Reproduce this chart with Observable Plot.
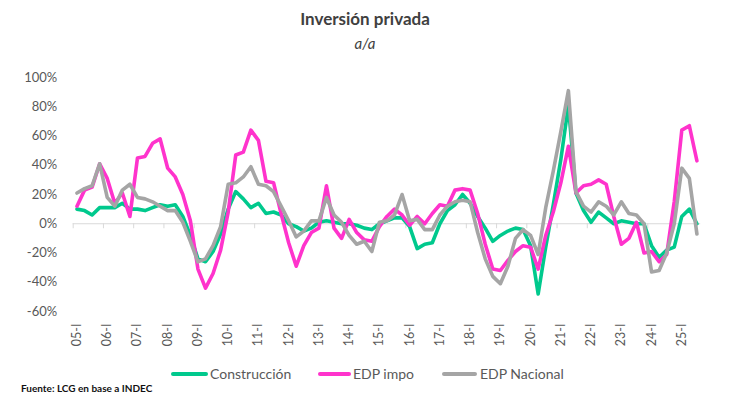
<!DOCTYPE html>
<html><head><meta charset="utf-8">
<script src="https://cdn.jsdelivr.net/npm/d3@7"></script>
<script src="https://cdn.jsdelivr.net/npm/@observablehq/plot@0.6"></script>
<style>
body{margin:0;background:#fff;font-family:Lato,"Open Sans",sans-serif;}
#wrap{position:relative;width:730px;height:399px;overflow:hidden;background:#fff;}
#title{position:absolute;top:8px;left:0;width:730px;text-align:center;font-weight:bold;font-size:17px;color:#404040;line-height:22px;}
#sub{position:absolute;top:33px;left:0;width:730px;text-align:center;font-style:italic;font-size:15px;color:#404040;line-height:20px;}
#chart{position:absolute;top:60px;left:0;}
.lg{position:absolute;top:365px;height:18px;line-height:18px;font-size:14px;color:#595959;white-space:nowrap;}
.sw{position:absolute;top:372px;height:4px;border-radius:2px;}
#source{position:absolute;top:381px;left:21px;font-size:10px;font-weight:bold;color:#111;line-height:14px;}
</style></head>
<body><div id="wrap">
<div id="title">Inversión privada</div>
<div id="sub">a/a</div>
<div id="chart"></div>
<div id="source">Fuente: LCG en base a INDEC</div>
</div>
<script>
const years = ["05","06","07","08","09","10","11","12","13","14","15","16","17","18","19","20","21","22","23","24","25"];
const quarterNames = ["I","II","III","IV"];
const quarters = years.flatMap(y => quarterNames.map(q => `${y}-${q}`)).slice(0, 83);

const construccion = [10,9,6,11, 11,11,14,10, 10,9,11,13, 12,13,5,-8, -24,-26,-19,-7, 10,22,17,11, 14,7,8,6, 0,-2,-5,-3, 1,2,1,0, 0,-1,-3,-4, 0,2,4,4, -2,-17,-14,-13, 0,9,13,20, 14,5,-3,-12, -8,-5,-3,-4, -15,-48,-16,13, 44,81,21,9, 1,8,4,0, 2,1,0,0, -15,-23,-18,-16, 5,10,0];
const edpImpo = [12,23,25,41, 31,14,21,5, 45,46,55,58, 38,32,20,2, -31,-44,-34,-18, 8,47,49,64, 57,29,28,7, -13,-29,-15,-6, -3,26,-3,-10, 3,-6,-11,-12, -2,5,10,6, -1,5,0,7, 13,12,23,24, 23,7,-14,-31, -32,-25,-19,-15, -16,-31,-8,8, 28,53,21,26, 27,30,27,5, -14,-10,1,-20, -19,-26,-21,15, 64,67,43];
const edpNacional = [21,24,26,41, 18,12,23,27, 18,17,15,12, 9,9,1,-12, -26,-24,-15,-2, 27,28,32,39, 27,26,22,12, 2,-9,-5,2, 2,18,6,1, -8,-14,-12,-19, 1,2,6,20, 2,3,-4,-4, 6,12,15,16, 15,-6,-24,-36, -41,-29,-10,-4, -8,-21,11,36, 63,91,22,12, 8,15,12,6, 15,7,6,0, -33,-32,-20,0, 38,31,-7];

const seriesNames = ["Construcción","EDP impo","EDP Nacional"];
const seriesColors = ["#00C98D","#FF33CC","#A5A5A5"];
const yTicks = [-60,-40,-20,0,20,40,60,80,100];
const xTickLabels = years.map(y => `${y}-I`);

const seriesValues = [construccion, edpImpo, edpNacional];
const rows = [];
seriesValues.forEach((vals, s) => vals.forEach((v, i) => rows.push({serie: seriesNames[s], i, v})));
const xTickIdx = xTickLabels.map(l => quarters.indexOf(l));
const boundaries = xTickIdx.map(i => i - 0.5);

const chart = Plot.plot({
  width: 730, height: 300,
  marginLeft: 72.7, marginRight: 29.8, marginTop: 17, marginBottom: 49,
  x: {type: "linear", domain: [-0.5, quarters.length - 0.5], axis: null},
  y: {domain: [-60, 100], axis: null},
  color: {domain: seriesNames, range: seriesColors},
  style: {fontFamily: "Lato, 'Open Sans', sans-serif", color: "#595959", background: "#fff", overflow: "visible"},
  marks: [
    Plot.ruleY([0], {stroke: "#D9D9D9", strokeWidth: 1}),
    Plot.ruleX(boundaries, {x: d => d, y1: 0, y2: 0, insetBottom: -5, stroke: "#D9D9D9", strokeWidth: 1}),
    Plot.axisY(yTicks, {anchor: "left", label: null, tickSize: 0, tickPadding: 16, tickFormat: d => d + "%", fontSize: 13}),
    Plot.axisX(xTickIdx, {anchor: "bottom", label: null, tickSize: 0, tickPadding: 12, tickRotate: -90, tickFormat: i => quarters[i], fontSize: 12.5}),
    Plot.line(rows, {x: "i", y: "v", z: "serie", stroke: "serie", strokeWidth: 3.6, strokeLinejoin: "round", strokeLinecap: "round"})
  ]
});
document.getElementById("chart").appendChild(chart);

// legend
const wrap = document.getElementById("wrap");
const legendPos = [[171, 37, 210], [318, 33, 353], [442, 35, 480]];
seriesNames.forEach((name, k) => {
  const [sx, sw, tx] = legendPos[k];
  const s = document.createElement("div");
  s.className = "sw"; s.style.left = sx + "px"; s.style.width = sw + "px"; s.style.background = seriesColors[k];
  wrap.appendChild(s);
  const t = document.createElement("div");
  t.className = "lg"; t.style.left = tx + "px"; t.textContent = name;
  wrap.appendChild(t);
});
</script>
</body></html>
